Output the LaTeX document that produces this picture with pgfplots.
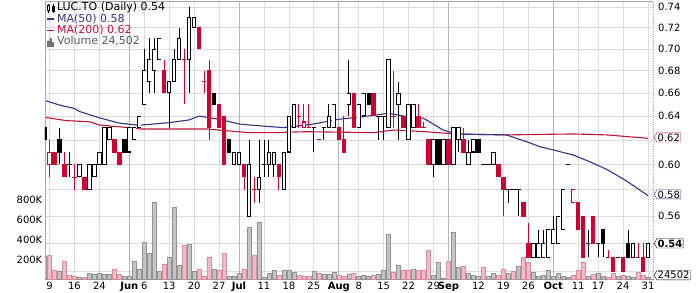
\documentclass[border=0pt]{standalone}
\usepackage{fontspec}
\setmainfont{DejaVu Sans}
\usepackage{pgfplots}
\pgfplotsset{compat=1.18}
\usepackage{pgfplotstable}
\usetikzlibrary{shapes.symbols}

\definecolor{candlered}{HTML}{CC0033}
\definecolor{ma50}{HTML}{333388}
\definecolor{ma200}{HTML}{C0143C}
\definecolor{gridc}{HTML}{DCDCDC}
\definecolor{gridm}{HTML}{B4B4B4}
\definecolor{volg}{HTML}{C4C4C4}
\definecolor{volgl}{HTML}{929292}
\definecolor{volp}{HTML}{F2BCC6}
\definecolor{volpl}{HTML}{D88C9C}
\definecolor{framec}{HTML}{A8A8A8}

% hollow (black outline) candles: close > open
\pgfplotstableread{
x o h l c
6 0.59 0.60 0.59 0.60
8 0.58 0.60 0.58 0.60
9 0.59 0.60 0.59 0.60
10 0.60 0.61 0.60 0.61
11 0.60 0.63 0.60 0.63
12 0.62 0.63 0.62 0.63
16 0.61 0.63 0.61 0.63
17 0.62 0.63 0.62 0.63
18 0.63 0.64 0.63 0.64
19 0.65 0.70 0.65 0.68
20 0.67 0.71 0.66 0.69
21 0.68 0.71 0.66 0.70
22 0.69 0.71 0.69 0.71
24 0.66 0.67 0.63 0.67
25 0.67 0.70 0.67 0.69
26 0.69 0.72 0.69 0.71
28 0.69 0.74 0.66 0.73
29 0.72 0.73 0.72 0.73
37 0.60 0.61 0.60 0.61
38 0.60 0.61 0.60 0.61
40 0.56 0.62 0.56 0.60
42 0.58 0.62 0.57 0.59
44 0.60 0.62 0.59 0.61
45 0.60 0.61 0.59 0.61
47 0.58 0.61 0.58 0.61
48 0.61 0.64 0.61 0.64
49 0.63 0.65 0.63 0.65
56 0.63 0.65 0.63 0.64
57 0.63 0.65 0.63 0.65
60 0.65 0.69 0.64 0.66
62 0.63 0.65 0.63 0.65
63 0.64 0.66 0.64 0.66
68 0.63 0.69 0.63 0.69
70 0.65 0.67 0.62 0.66
72 0.62 0.65 0.62 0.65
73 0.63 0.65 0.63 0.65
77 0.60 0.62 0.59 0.62
79 0.60 0.62 0.60 0.62
81 0.60 0.63 0.60 0.63
82 0.62 0.63 0.61 0.63
84 0.60 0.62 0.60 0.61
85 0.61 0.62 0.61 0.62
89 0.60 0.61 0.60 0.61
97 0.53 0.54 0.53 0.54
98 0.53 0.55 0.53 0.54
99 0.53 0.55 0.53 0.54
100 0.53 0.55 0.53 0.55
101 0.54 0.56 0.54 0.55
102 0.54 0.56 0.54 0.56
103 0.55 0.58 0.55 0.58
117 0.53 0.54 0.53 0.54
120 0.53 0.54 0.53 0.54
}\hollowtab

% red hollow candles
\pgfplotstableread{
x o h l c
0 0.60 0.62 0.59 0.61
51 0.63 0.65 0.63 0.635
105 0.57 0.58 0.57 0.58
}\rhollowtab

% red filled candles and red dojis
\pgfplotstableread{
x o h l c
1 0.61 0.61 0.60 0.60
3 0.60 0.61 0.59 0.59
5 0.59 0.60 0.58 0.59
7 0.59 0.59 0.58 0.58
13 0.62 0.62 0.61 0.61
14 0.61 0.61 0.60 0.60
23 0.68 0.69 0.66 0.66
27 0.69 0.70 0.65 0.69
30 0.72 0.72 0.70 0.70
31 0.67 0.68 0.66 0.67
32 0.68 0.69 0.62 0.63
34 0.65 0.65 0.63 0.63
35 0.64 0.64 0.60 0.60
39 0.60 0.60 0.58 0.59
41 0.58 0.59 0.57 0.58
46 0.60 0.60 0.58 0.59
50 0.64 0.65 0.63 0.64
52 0.63 0.65 0.63 0.63
54 0.62 0.62 0.62 0.62
58 0.63 0.63 0.62 0.62
59 0.62 0.64 0.61 0.61
61 0.66 0.66 0.63 0.63
65 0.66 0.66 0.64 0.64
69 0.64 0.68 0.63 0.64
71 0.64 0.64 0.63 0.63
74 0.64 0.65 0.63 0.63
75 0.63 0.635 0.63 0.63
76 0.62 0.62 0.60 0.60
80 0.62 0.62 0.60 0.60
83 0.62 0.63 0.61 0.61
90 0.60 0.60 0.59 0.59
91 0.59 0.59 0.56 0.58
95 0.57 0.57 0.56 0.56
96 0.54 0.555 0.53 0.53
106 0.57 0.57 0.55 0.55
107 0.56 0.56 0.53 0.53
109 0.56 0.56 0.54 0.54
112 0.53 0.535 0.53 0.53
113 0.53 0.53 0.52 0.52
115 0.53 0.53 0.52 0.52
118 0.53 0.54 0.53 0.53
119 0.53 0.54 0.52 0.52
}\redtab

% black filled candles and black dojis
\pgfplotstableread{
x o h l c
-1 0.63 0.63 0.62 0.62
2 0.62 0.63 0.60 0.61
4 0.60 0.61 0.59 0.60
15 0.62 0.62 0.61 0.61
33 0.66 0.66 0.65 0.65
36 0.62 0.62 0.61 0.61
43 0.60 0.62 0.59 0.60
53 0.63 0.63 0.61 0.63
55 0.63 0.63 0.62 0.63
64 0.66 0.66 0.65 0.65
66 0.64 0.64 0.62 0.64
67 0.64 0.64 0.62 0.64
78 0.62 0.62 0.60 0.60
86 0.62 0.62 0.61 0.61
87 0.60 0.60 0.60 0.60
88 0.60 0.60 0.60 0.60
92 0.58 0.58 0.57 0.58
93 0.58 0.58 0.58 0.58
94 0.58 0.58 0.56 0.58
104 0.60 0.60 0.60 0.60
108 0.54 0.55 0.53 0.54
110 0.54 0.54 0.53 0.54
111 0.55 0.55 0.53 0.54
114 0.53 0.53 0.53 0.53
116 0.54 0.55 0.53 0.53
}\blacktab

\pgfplotstableread{
x v
-1 228000
2 84000
6 17000
8 60000
9 50000
10 60000
11 50000
12 50000
15 27000
16 33000
17 178000
18 100000
19 373000
20 262000
21 777000
22 77000
24 222000
25 722000
26 141000
28 353000
29 77000
33 100000
36 27000
37 33000
38 60000
40 525000
42 575000
43 17000
44 60000
45 87000
47 87000
48 87000
49 67000
53 77000
55 50000
56 50000
57 67000
60 50000
62 33000
63 43000
64 33000
66 50000
67 94000
68 454000
70 141000
73 101000
77 43000
78 171000
79 13000
81 477000
82 118000
84 60000
85 43000
86 27000
88 27000
89 60000
92 60000
94 134000
97 67000
98 27000
99 43000
100 87000
101 33000
102 60000
103 27000
104 20000
108 33000
110 60000
111 27000
114 27000
116 27000
117 20000
120 24502
}\volgrey

\pgfplotstableread{
x v
0 245000
1 94000
3 178000
4 43000
5 33000
7 17000
13 100000
14 55000
23 151000
27 343000
30 100000
31 33000
32 222000
34 87000
35 262000
39 101000
41 245000
46 43000
50 43000
51 27000
52 33000
54 60000
58 43000
59 33000
61 60000
65 43000
69 67000
71 94000
72 94000
74 87000
75 94000
76 296000
80 185000
83 134000
87 121000
90 43000
91 101000
93 77000
95 222000
96 168000
105 43000
106 94000
107 168000
109 50000
112 20000
113 60000
115 43000
118 67000
119 43000
}\volpink

\begin{document}
\begin{tikzpicture}
\useasboundingbox (-45bp,-13.7bp) rectangle (655bp,279.3bp);

% ---------- price background: grid, frame, ticks, moving averages
\begin{axis}[scale only axis, width=608bp, height=278.3bp,
  at={(0bp,0bp)}, anchor=south west, xmin=-0.9, xmax=121,
  ymode=log, ymin=0.5147, ymax=0.74625,
  clip mode=individual,
  major tick length=0pt,
  ticklabel style={font=\fontsize{10bp}{12bp}\selectfont},
  axis x line*=box, axis y line*=right,
  x axis line style={draw=framec, line width=0.8bp},
  y axis line style={draw=framec, densely dotted, line width=0.8bp},
  xtick={0,5,10,16,19,24,29,34,38,43,48,53,58,62,67,72,77,80,86,91,96,101,106,110,115,120},
  xticklabels={9,16,24,\textbf{Jun},6,13,20,27,\textbf{Jul},11,18,25,\textbf{Aug},8,15,22,29,\textbf{Sep},12,19,26,\textbf{Oct},11,17,24,31},
  xticklabel style={anchor=north, inner sep=0pt, yshift=-2.5bp},
  extra x ticks={16,38,58,80,101}, extra x tick labels={},
  extra x tick style={grid style={gridm, line width=0.8bp}},
  ytick={0.52,0.54,0.56,0.58,0.60,0.62,0.64,0.66,0.68,0.70,0.72,0.74},
  yticklabels={,,0.56,,0.60,,0.64,0.66,0.68,0.70,0.72,0.74},
  yticklabel style={anchor=west, inner sep=0pt, xshift=5bp},
  xmajorgrids, ymajorgrids, grid style={gridc, line width=0.7bp},
]
\addplot[ma200, line width=1.1bp] coordinates {
(-1,0.6390) (3.4,0.6361) (8,0.6352) (10,0.6324) (17,0.6297) (18,0.6291)
(31.5,0.6291) (35.5,0.6276) (40,0.6260) (45,0.6260) (51.5,0.6268) (65,0.6260)
(69,0.6282) (75.6,0.6268) (81,0.6249) (91.6,0.6241) (105,0.6249) (111.7,0.6241) (120,0.6213)};
\addplot[ma50, line width=1.1bp] coordinates {
(-1,0.6535) (2,0.6495) (5,0.6465) (6,0.6440) (10,0.6385) (14,0.6340) (18,0.6322)
(21.5,0.6335) (24,0.6344) (28,0.6367) (30,0.6400) (34,0.6373) (38,0.6333) (40,0.6324)
(47,0.6302) (53,0.6333) (58,0.6373) (63,0.6395) (68,0.6424) (71.6,0.6395) (75,0.6381)
(79,0.6280) (81.6,0.6248) (91.6,0.6241) (95.6,0.6185) (98.3,0.6144) (101.6,0.6111)
(105,0.6076) (108.3,0.6022) (111.7,0.5961) (115.7,0.5869) (120,0.5755)};
\end{axis}

% ---------- volume
\begin{axis}[scale only axis, width=608bp, height=278.3bp,
  at={(0bp,0bp)}, anchor=south west, xmin=-0.9, xmax=121,
  ymin=0, ymax=2807600,
  clip mode=individual,
  major tick length=0pt,
  ticklabel style={font=\fontsize{10bp}{12bp}\selectfont},
  axis x line=none, axis y line*=left,
  y axis line style={draw=framec, line width=0.8bp},
  xtick=\empty, scaled y ticks=false,
  ytick={200000,400000,600000,800000},
  yticklabels={200K,400K,600K,800K},
  yticklabel style={anchor=east, inner sep=0pt, xshift=-2.5bp},
]
\addplot[ybar, bar width=4bp, bar shift=0pt, fill=volg, draw=volgl, line width=0.5bp] table[x=x, y=v] {\volgrey};
\addplot[ybar, bar width=4bp, bar shift=0pt, fill=volp, draw=volpl, line width=0.5bp] table[x=x, y=v] {\volpink};
\node[signal, signal to=west, signal pointer angle=120, draw=black, fill=white, inner sep=0.8bp,
  font=\fontsize{10bp}{12bp}\selectfont, anchor=west, xshift=1bp] at (axis cs:121,40000) {24502};
\end{axis}

% ---------- candles, legend, value boxes
\begin{axis}[scale only axis, width=608bp, height=278.3bp,
  at={(0bp,0bp)}, anchor=south west, xmin=-0.9, xmax=121,
  ymode=log, ymin=0.5147, ymax=0.74625,
  clip mode=individual,
  hide axis,
  legend style={at={(0,1)}, anchor=north west, xshift=1.5bp, yshift=-1.5bp,
    draw=none, fill=none, inner sep=0pt, outer sep=0pt, row sep=0pt,
    font=\fontsize{11bp}{12bp}\selectfont,
    nodes={inner sep=0.3bp, text height=8bp, text depth=2.6bp},
    /tikz/every odd column/.append style={column sep=1.5bp}},
  legend cell align=left,
  every axis plot/.append style={only marks, mark=none, mark size=0pt,
    mark options={draw=none, fill=none}, forget plot,
    error bars/y dir=minus, error bars/y explicit, error bars/error mark=none},
]
\addlegendimage{legend image code/.code={
  \draw[black, line width=0.7bp] (1.2bp,-4.5bp)--(1.2bp,4.5bp) (5.8bp,-4.5bp)--(5.8bp,4.5bp);
  \draw[black, fill=white, line width=0.7bp] (0bp,-2bp) rectangle (2.4bp,3bp);
  \fill[black] (4.6bp,-3bp) rectangle (7bp,2bp);}}
\addlegendentry{LUC.TO (Daily) 0.54}
\addlegendimage{legend image code/.code={\draw[ma50, line width=1.8bp] (0bp,0bp)--(7bp,0bp);}}
\addlegendentry{\textcolor{ma50}{MA(50) 0.58}}
\addlegendimage{legend image code/.code={\draw[ma200, line width=1.8bp] (0bp,0bp)--(7bp,0bp);}}
\addlegendentry{\textcolor{ma200}{MA(200) 0.62}}
\addlegendimage{legend image code/.code={
  \fill[black!55] (0bp,-4.5bp) rectangle (1.6bp,1bp) (2.3bp,-4.5bp) rectangle (3.9bp,3.5bp)
  (4.6bp,-4.5bp) rectangle (6.2bp,-0.5bp);}}
\addlegendentry{\textcolor{black!65}{Volume 24,502}}

% wicks
\addplot[error bars/error bar style={draw=black, line width=0.9bp, solid}]
  table[x=x, y=h, y error minus expr={\thisrow{h}-\thisrow{l}}] {\hollowtab};
\addplot[error bars/error bar style={draw=black, line width=0.9bp, solid}]
  table[x=x, y=h, y error minus expr={\thisrow{h}-\thisrow{l}}] {\blacktab};
\addplot[error bars/error bar style={draw=candlered, line width=0.9bp, solid}]
  table[x=x, y=h, y error minus expr={\thisrow{h}-\thisrow{l}}] {\redtab};
\addplot[error bars/error bar style={draw=candlered, line width=0.9bp, solid}]
  table[x=x, y=h, y error minus expr={\thisrow{h}-\thisrow{l}}] {\rhollowtab};
% filled bodies
\addplot[error bars/error bar style={draw=black, line width=4.4bp, solid}]
  table[x=x, y expr={max(\thisrow{o},\thisrow{c})*1.0006},
  y error minus expr={max(\thisrow{o},\thisrow{c})*1.0006-min(\thisrow{o},\thisrow{c})/1.0006}] {\blacktab};
\addplot[error bars/error bar style={draw=candlered, line width=4.4bp, solid}]
  table[x=x, y expr={max(\thisrow{o},\thisrow{c})*1.0006},
  y error minus expr={max(\thisrow{o},\thisrow{c})*1.0006-min(\thisrow{o},\thisrow{c})/1.0006}] {\redtab};
% hollow bodies
\addplot[error bars/error bar style={draw=black, line width=4.4bp, solid}]
  table[x=x, y expr={max(\thisrow{o},\thisrow{c})*1.0006},
  y error minus expr={max(\thisrow{o},\thisrow{c})*1.0006-min(\thisrow{o},\thisrow{c})/1.0006}] {\hollowtab};
\addplot[error bars/error bar style={draw=white, line width=2.6bp, solid}]
  table[x=x, y expr={max(\thisrow{o},\thisrow{c})/1.0008},
  y error minus expr={max(\thisrow{o},\thisrow{c})/1.0008-min(\thisrow{o},\thisrow{c})*1.0008}] {\hollowtab};
\addplot[error bars/error bar style={draw=candlered, line width=4.4bp, solid}]
  table[x=x, y expr={max(\thisrow{o},\thisrow{c})*1.0006},
  y error minus expr={max(\thisrow{o},\thisrow{c})*1.0006-min(\thisrow{o},\thisrow{c})/1.0006}] {\rhollowtab};
\addplot[error bars/error bar style={draw=white, line width=2.6bp, solid}]
  table[x=x, y expr={max(\thisrow{o},\thisrow{c})/1.0008},
  y error minus expr={max(\thisrow{o},\thisrow{c})/1.0008-min(\thisrow{o},\thisrow{c})*1.0008}] {\rhollowtab};

\node[signal, signal to=west, signal pointer angle=120, draw=ma200, fill=white, inner sep=0.8bp,
  font=\fontsize{10bp}{12bp}\selectfont, anchor=west, xshift=1bp] at (axis cs:121,0.622) {0.62};
\node[signal, signal to=west, signal pointer angle=120, draw=ma50, fill=white, inner sep=0.8bp,
  font=\fontsize{10bp}{12bp}\selectfont, anchor=west, xshift=1bp] at (axis cs:121,0.5765) {0.58};
\node[signal, signal to=west, signal pointer angle=120, draw=black, fill=white, inner sep=0.8bp,
  font=\fontsize{10bp}{12bp}\selectfont\bfseries, anchor=west, xshift=1bp] at (axis cs:121,0.54) {0.54};
\end{axis}
\end{tikzpicture}
\end{document}
